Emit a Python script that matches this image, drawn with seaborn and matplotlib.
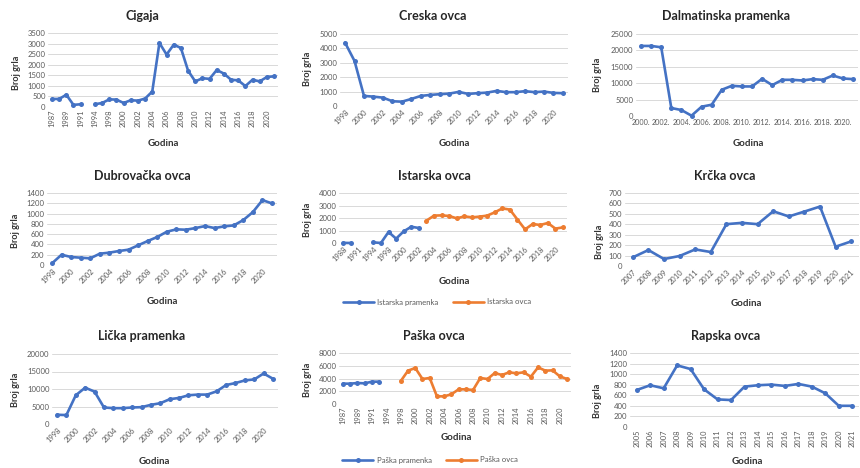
import numpy as np
import pandas as pd
import matplotlib
matplotlib.use("Agg")
import matplotlib.pyplot as plt
import seaborn as sns
from matplotlib.lines import Line2D

sns.set_theme(style="white")
plt.rcParams["font.family"] = ["Lato", "DejaVu Sans"]

BLUE = "#4472C4"
ORANGE = "#ED7D31"
GRID = "#D9D9D9"
TXT = "#333333"
TICK = "#595959"
nan = np.nan

# ---------------- data ----------------
years_long = ["1987", "1988", "1989", "1990", "1991", "1992", "1994", "1996", "1998", "1999",
              "2000", "2001", "2002", "2003", "2004", "2005", "2006", "2007", "2008", "2009",
              "2010", "2011", "2012", "2013", "2014", "2015", "2016", "2017", "2018", "2019",
              "2020", "2021"]
years_1998 = [str(y) for y in range(1998, 2022)]
years_2000 = [f"{y}." for y in range(2000, 2022)]
years_2007 = [str(y) for y in range(2007, 2022)]
years_2005 = [str(y) for y in range(2005, 2022)]
years_istra = ["1988", "1989", "1991", "1992", "1994", "1996", "1998", "1999"] + \
              [str(y) for y in range(2000, 2022)]

cigaja = [380, 380, 580, 100, 130, nan, 130, 190, 360, 350, 190, 320, 300, 400, 730, 3030,
          2480, 2950, 2790, 1720, 1210, 1360, 1330, 1750, 1580, 1290, 1260, 990, 1290, 1210,
          1420, 1450]
creska = [4400, 3130, 700, 650, 580, 330, 300, 490, 700, 770, 820, 860, 980, 840, 890, 930,
          1050, 960, 960, 1030, 960, 1000, 910, 890]
dalmatinska = [21360, 21360, 20950, 2430, 1820, 100, 2830, 3440, 8000, 9210, 9010, 9010,
               11340, 9410, 11030, 11030, 10830, 11240, 11030, 12350, 11440, 11240]
dubrovacka = [32, 200, 155, 142, 130, 220, 240, 272, 298, 382, 466, 544, 647, 693, 686, 718,
              757, 718, 751, 770, 874, 1029, 1262, 1197]
istarska_pramenka = [10, 0, nan, nan, 50, 0, 880, 350, 930, 1300, 1200] + [nan] * 19
istarska_ovca = [nan] * 11 + [1790, 2190, 2210, 2160, 1970, 2130, 2050, 2110, 2190, 2450,
                              2770, 2670, 1870, 1090, 1520, 1440, 1600, 1150, 1250]
krcka = [83, 153, 67, 96, 159, 134, 401, 414, 401, 525, 475, 522, 570, 185, 236]
licka = [2640, 2550, 8210, 10380, 9250, 4720, 4530, 4530, 4720, 4810, 5470, 5940, 7080, 7450,
         8210, 8400, 8400, 9340, 11130, 11700, 12450, 12740, 14430, 12920]
paska_pramenka = [3190, 3190, 3290, 3240, 3500, 3500] + [nan] * 26
paska_ovca = [nan] * 8 + [3610, 5230, 5650, 3920, 4080, 1200, 1200, 1520, 2300, 2300, 2200,
                          4080, 3920, 4860, 4550, 4970, 4810, 4970, 4290, 5750, 5230, 5280,
                          4340, 3920]
rapska = [700, 790, 732, 1166, 1096, 713, 522, 510, 764, 790, 802, 777, 815, 764, 637, 401, 401]

W, H = 860, 468
fig = plt.figure(figsize=(W / 100, H / 100), dpi=100)
fig.patch.set_facecolor("white")

LW, MS = 1.9, 3.6


def draw_series(ax, cats, values, color):
    """Draw a line with markers, broken where values are missing."""
    df = pd.DataFrame({"x": np.arange(len(cats)), "y": values})
    df["run"] = df["y"].isna().cumsum()
    df = df.dropna()
    for _, seg in df.groupby("run"):
        sns.lineplot(data=seg, x="x", y="y", ax=ax, color=color, linewidth=LW,
                     marker="o", markersize=MS, markeredgewidth=0, estimator=None,
                     clip_on=False)


def panel(box, cats, series, title, title_xy, ymax, ystep, xlab_xy, ylab_xy,
          step=2, rot=45):
    L, T, R, B = box
    ax = fig.add_axes([L / W, 1 - B / H, (R - L) / W, (B - T) / H])
    for vals, col in series:
        draw_series(ax, cats, vals, col)
    n = len(cats)
    ax.set_xlim(-0.5, n - 0.5)
    ax.set_ylim(0, ymax)
    ax.set_yticks(np.arange(0, ymax + 1, ystep))
    ax.set_yticklabels([f"{int(v)}" for v in np.arange(0, ymax + 1, ystep)],
                       fontsize=5.6, color=TICK)
    idx = list(range(0, n, step))
    ax.set_xticks(idx)
    if rot == 0:
        ax.set_xticklabels([cats[i] for i in idx], fontsize=5.1, color=TICK)
    elif rot == 90:
        ax.set_xticklabels([cats[i] for i in idx], fontsize=5.4, color=TICK,
                           rotation=90, ha="center", va="top")
    else:
        ax.set_xticklabels([cats[i] for i in idx], fontsize=5.4, color=TICK,
                           rotation=45, ha="right", va="top", rotation_mode="anchor")
    ax.tick_params(axis="both", length=0, pad=2)
    ax.grid(axis="y", color=GRID, linewidth=0.7)
    ax.set_axisbelow(True)
    for s in ax.spines.values():
        s.set_visible(False)
    ax.set_xlabel("Godina", fontsize=7, fontweight="bold", color=TXT)
    ax.set_ylabel("Broj grla", fontsize=6.6, fontweight="bold", color=TXT)
    ax.xaxis.set_label_coords((xlab_xy[0] - L) / (R - L), (B - xlab_xy[1]) / (B - T))
    ax.xaxis.label.set_va("center")
    ax.yaxis.set_label_coords((ylab_xy[0] - L) / (R - L), (B - ylab_xy[1]) / (B - T))
    ax.yaxis.label.set_va("center")
    fig.text(title_xy[0] / W, 1 - title_xy[1] / H, title, fontsize=9,
             fontweight="bold", color="#262626", ha="center", va="center")
    return ax


# row 1
panel((48.4, 33, 277.6, 107), years_long, [(cigaja, BLUE)], "Cigaja", (142, 16),
      3500, 500, (163, 143), (16, 73), step=2, rot=90)
panel((340.3, 34, 567.7, 106), years_1998, [(creska, BLUE)], "Creska ovca", (433, 16),
      5000, 1000, (454, 143), (308, 69), step=2, rot=45)
panel((636, 34, 858, 116), years_2000, [(dalmatinska, BLUE)], "Dalmatinska pramenka",
      (726, 16), 25000, 5000, (748, 143), (597, 75), step=2, rot=0)

# row 2
panel((47.2, 193, 276.8, 265), years_1998, [(dubrovacka, BLUE)], "Dubrovačka ovca",
      (142, 176), 1400, 200, (162, 302), (16, 231), step=2, rot=45)
panel((339.2, 193, 566.8, 243), years_istra,
      [(istarska_pramenka, BLUE), (istarska_ovca, ORANGE)], "Istarska ovca",
      (434, 176), 4000, 1000, (454, 281), (308, 220), step=2, rot=45)
panel((625, 193, 859, 266), years_2007, [(krcka, BLUE)], "Krčka ovca", (725, 176),
      700, 100, (746, 303), (599, 242), step=1, rot=45)

# row 3
panel((52.3, 354, 277.7, 424), years_1998, [(licka, BLUE)], "Lička pramenka", (142, 336),
      20000, 5000, (154, 462), (16, 390), step=2, rot=45)
panel((339.4, 353, 570.6, 404), years_long,
      [(paska_pramenka, BLUE), (paska_ovca, ORANGE)], "Paška ovca", (434, 336),
      8000, 2000, (456, 438), (308, 380), step=2, rot=90)
panel((630, 353, 859, 427), years_2005, [(rapska, BLUE)], "Rapska ovca", (726, 336),
      1400, 200, (747, 462), (598, 401), step=1, rot=90)


def legend(names, center_xy):
    handles = [Line2D([], [], color=c, linewidth=LW, marker="o", markersize=MS,
                      markeredgewidth=0) for c in (BLUE, ORANGE)]
    leg = fig.legend(handles, names, loc="center",
                     bbox_to_anchor=(center_xy[0] / W, 1 - center_xy[1] / H),
                     ncol=2, frameon=False, fontsize=5.6, handlelength=4.0,
                     handletextpad=0.4, columnspacing=1.8, borderpad=0)
    for t in leg.get_texts():
        t.set_color(TICK)


legend(["Istarska pramenka", "Istarska ovca"], (437, 302))
legend(["Paška pramenka", "Paška ovca"], (430, 460))

fig.savefig("out.png", dpi=100, facecolor="white")
